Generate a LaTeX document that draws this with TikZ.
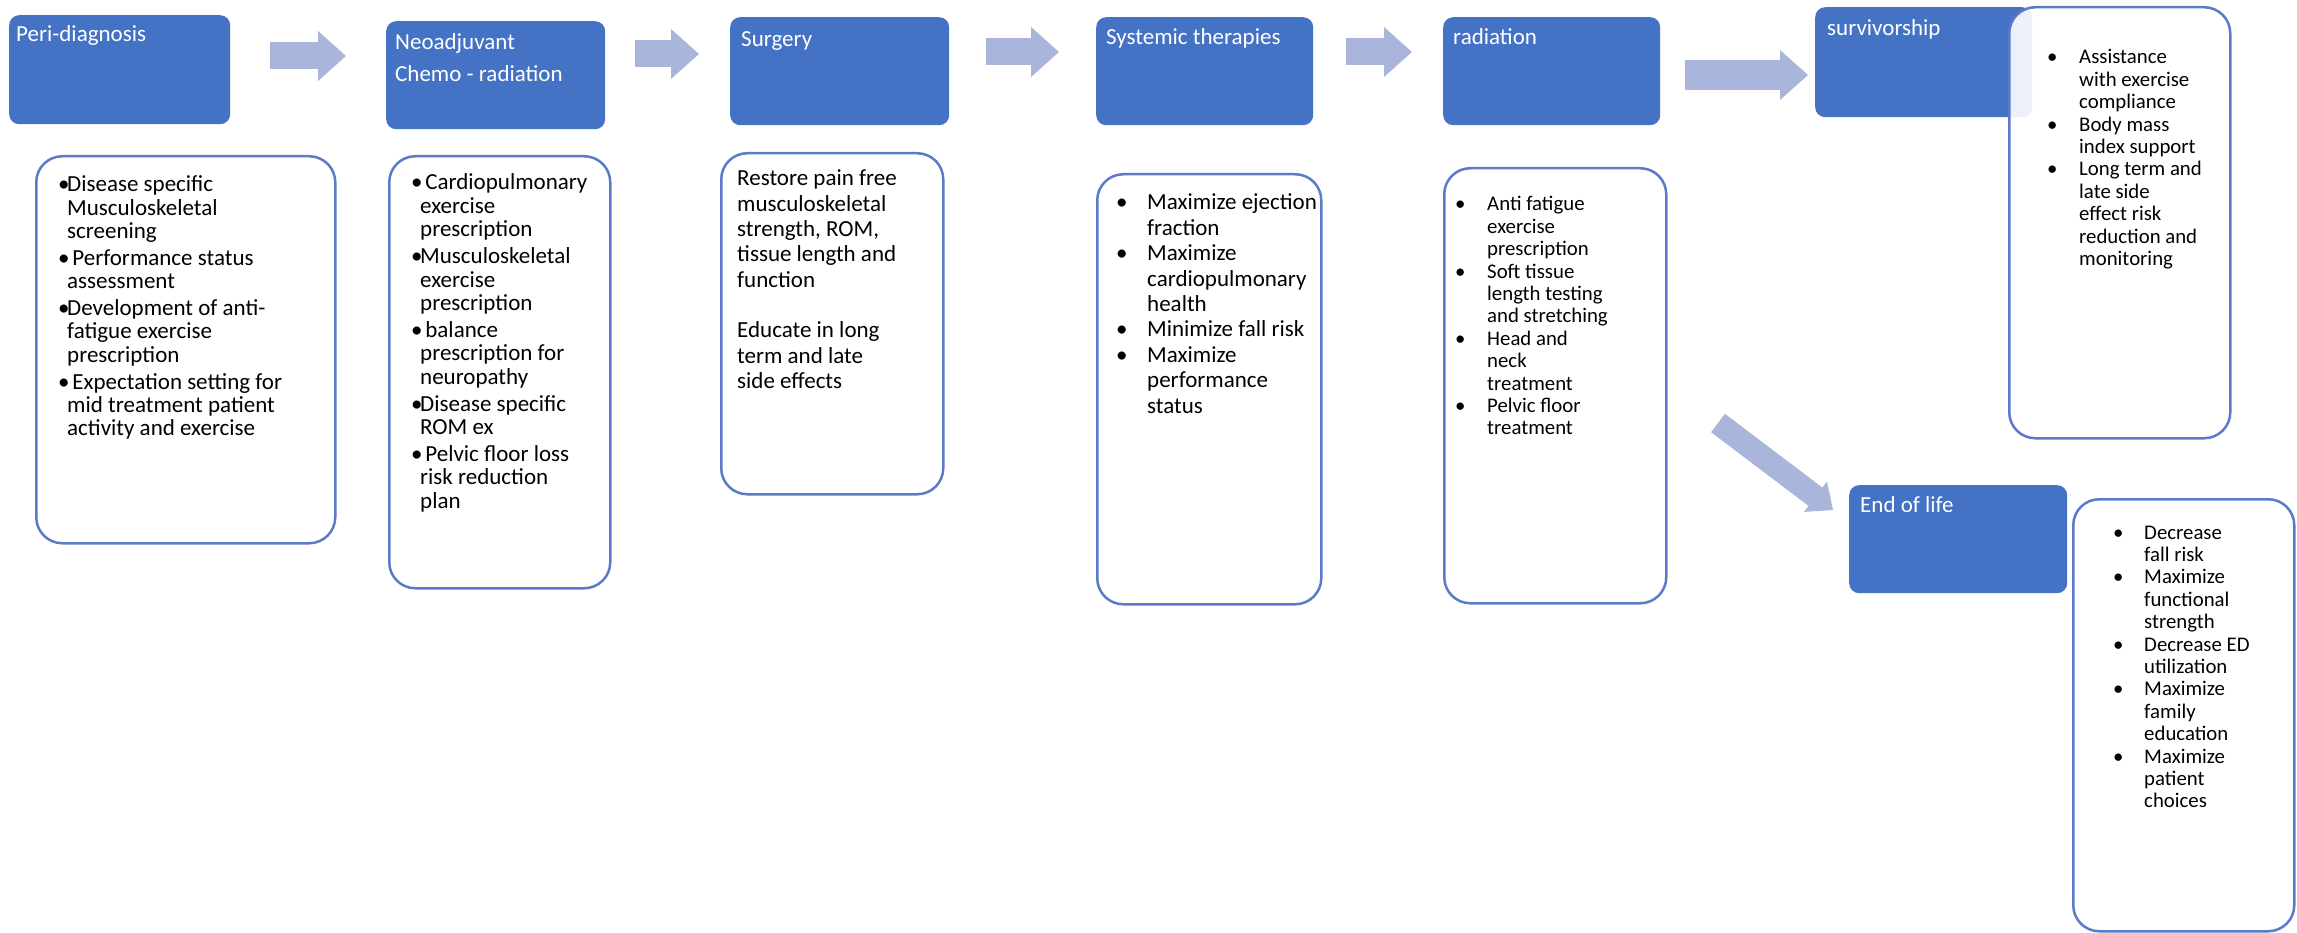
\documentclass[tikz,border=0pt]{standalone}
\usepackage{fontspec}
\setmainfont{Carlito}
\usetikzlibrary{arrows.meta}
\definecolor{phaseblue}{HTML}{4472C4}
\definecolor{boxedge}{HTML}{5B7BC8}
\definecolor{flowblue}{HTML}{A9B5DA}
\newcommand{\txtbig}{\fontsize{23}{23.4}\selectfont}
\newcommand{\txtsmall}{\fontsize{20.8}{22.4}\selectfont}
\newcommand{\bl}{\textbullet}

\begin{document}
\begin{tikzpicture}[x=1pt, y=-1pt]
  \tikzset{
    phase/.style={fill=phaseblue, rounded corners=10pt, inner sep=0pt, anchor=north west},
    phase text/.style={text=white, anchor=base west, inner sep=0pt, font=\fontsize{23}{32}\selectfont},
    detail/.style={draw=boxedge, line width=2.5pt, fill=white, rounded corners=26pt, inner sep=0pt, anchor=north west},
    detail text/.style={anchor=base west, inner sep=0pt},
    flow/.style={draw=flowblue, line width=27pt, -{Triangle[length=28pt, width=50pt, line width=0pt]}}
  }
  \useasboundingbox (0,0) rectangle (2297,933);

  % phase headers
  \node[phase, minimum width=221pt, minimum height=109pt] (peri) at (9,15) {};
  \node[phase, minimum width=219pt, minimum height=108pt] (neo) at (386,21) {};
  \node[phase, minimum width=219pt, minimum height=108pt] (surg) at (730,17) {};
  \node[phase, minimum width=217pt, minimum height=108pt] (sys) at (1096,17) {};
  \node[phase, minimum width=217pt, minimum height=108pt] (rad) at (1443,17) {};
  \node[phase, minimum width=217pt, minimum height=110pt] (surv) at (1815,7) {};
  \node[phase, minimum width=218pt, minimum height=108pt] (eol) at (1849,485) {};

  \node[phase text] (peri-t) at (16,42) {Peri-diagnosis};
  \node[phase text] (neo-t) at (395,50) {\begin{tabular}[t]{@{}l@{}}Neoadjuvant\\Chemo - radiation\end{tabular}};
  \node[phase text] (surg-t) at (741,47) {Surgery};
  \node[phase text] (sys-t) at (1106,45) {Systemic therapies};
  \node[phase text] (rad-t) at (1453,45) {radiation};
  \node[phase text] (surv-t) at (1827,36) {survivorship};
  \node[phase text] (eol-t) at (1860,512) {End of life};

  % detail boxes
  \node[detail, minimum width=299pt, minimum height=387pt] (peri-d) at (35,155) {};
  \node[detail, minimum width=221pt, minimum height=432pt] (neo-d) at (388,155) {};
  \node[detail, minimum width=222pt, minimum height=341pt] (surg-d) at (720,152) {};
  \node[detail, minimum width=224pt, minimum height=430pt] (sys-d) at (1096,173) {};
  \node[detail, minimum width=222pt, minimum height=435pt] (rad-d) at (1443,167) {};
  \node[detail, fill opacity=0.9, minimum width=221pt, minimum height=431pt] (surv-d) at (2008,6) {};
  \node[detail, minimum width=221pt, minimum height=432pt] (eol-d) at (2072,498) {};

  \node[detail text, font=\txtbig] (peri-l) at (58,192) {%
    \begin{tabular}[t]{@{}p{9pt}@{}l@{}}
      \bl & Disease specific\\
          & Musculoskeletal\\
          & screening\\[3.3pt]
      \bl & \ Performance status\\
          & assessment\\[3.3pt]
      \bl & Development of anti-\\
          & fatigue exercise\\
          & prescription\\[3.3pt]
      \bl & \ Expectation setting for\\
          & mid treatment patient\\
          & activity and exercise
    \end{tabular}};
  \node[detail text, font=\txtbig] (neo-l) at (411,190) {%
    \begin{tabular}[t]{@{}p{9pt}@{}l@{}}
      \bl & \ Cardiopulmonary\\
          & exercise\\
          & prescription\\[3.5pt]
      \bl & Musculoskeletal\\
          & exercise\\
          & prescription\\[3.5pt]
      \bl & \ balance\\
          & prescription for\\
          & neuropathy\\[3.5pt]
      \bl & Disease specific\\
          & ROM ex\\[3.5pt]
      \bl & \ Pelvic floor loss\\
          & risk reduction\\
          & plan
    \end{tabular}};
  \node[detail text, font=\fontsize{23}{25.3}\selectfont] (surg-l) at (737,186) {%
    \begin{tabular}[t]{@{}l@{}}
      Restore pain free\\
      musculoskeletal\\
      strength, ROM,\\
      tissue length and\\
      function\\
      \\
      Educate in long\\
      term and late\\
      side effects
    \end{tabular}};
  \node[detail text, font=\fontsize{23}{25.4}\selectfont] (sys-l) at (1116,210) {%
    \begin{tabular}[t]{@{}p{31pt}@{}l@{}}
      \bl & Maximize ejection\\
          & fraction\\
      \bl & Maximize\\
          & cardiopulmonary\\
          & health\\
      \bl & Minimize fall risk\\
      \bl & Maximize\\
          & performance\\
          & status
    \end{tabular}};
  \node[detail text, font=\txtsmall] (rad-l) at (1455,211) {%
    \begin{tabular}[t]{@{}p{32pt}@{}l@{}}
      \bl & Anti fatigue\\
          & exercise\\
          & prescription\\
      \bl & Soft tissue\\
          & length testing\\
          & and stretching\\
      \bl & Head and\\
          & neck\\
          & treatment\\
      \bl & Pelvic floor\\
          & treatment
    \end{tabular}};
  \node[detail text, font=\txtsmall] (surv-l) at (2047,64) {%
    \begin{tabular}[t]{@{}p{32pt}@{}l@{}}
      \bl & Assistance\\
          & with exercise\\
          & compliance\\
      \bl & Body mass\\
          & index support\\
      \bl & Long term and\\
          & late side\\
          & effect risk\\
          & reduction and\\
          & monitoring
    \end{tabular}};
  \node[detail text, font=\txtsmall] (eol-l) at (2113,539) {%
    \begin{tabular}[t]{@{}p{31pt}@{}l@{}}
      \bl & Decrease\\
          & fall risk\\
      \bl & Maximize\\
          & functional\\
          & strength\\
      \bl & Decrease ED\\
          & utilization\\
      \bl & Maximize\\
          & family\\
          & education\\
      \bl & Maximize\\
          & patient\\
          & choices
    \end{tabular}};

  % block arrows between the phases
  \coordinate (a1s) at (270,56);   \coordinate (a1e) at (346,56);
  \coordinate (a2s) at (635,54);   \coordinate (a2e) at (699,54);
  \coordinate (a3s) at (986,52);   \coordinate (a3e) at (1059,52);
  \coordinate (a4s) at (1346,52);  \coordinate (a4e) at (1412,52);
  \coordinate (a5s) at (1685,75);  \coordinate (a5e) at (1808,75);
  \coordinate (a6s) at (1718,423); \coordinate (a6e) at (1833,510);
  \draw[flow] (a1s) -- (a1e);
  \draw[flow] (a2s) -- (a2e);
  \draw[flow] (a3s) -- (a3e);
  \draw[flow] (a4s) -- (a4e);
  \draw[flow, line width=30pt] (a5s) -- (a5e);
  \draw[flow, line width=23pt, -{Triangle[length=22pt, width=38pt, line width=0pt]}] (a6s) -- (a6e);
\end{tikzpicture}
\end{document}
